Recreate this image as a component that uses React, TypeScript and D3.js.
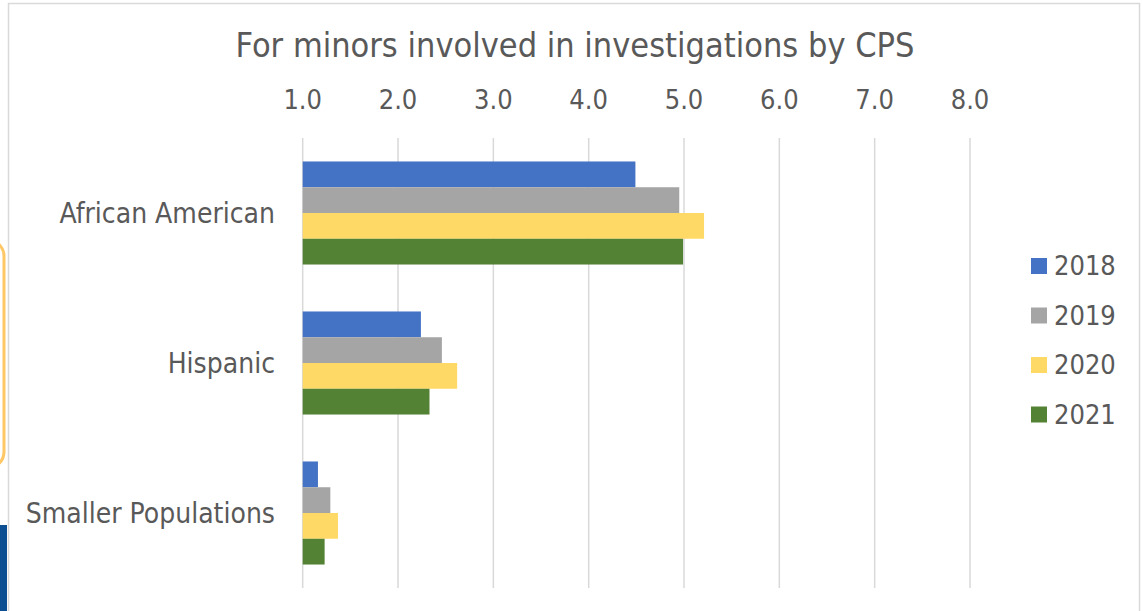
import React, { useRef, useEffect } from 'react';
import * as d3 from 'd3';

const categories = ['African American', 'Hispanic', 'Smaller Populations'];
const years = ['2018', '2019', '2020', '2021'];
const values2018 = [4.49, 2.24, 1.16];
const values2019 = [4.95, 2.46, 1.29];
const values2020 = [5.21, 2.62, 1.37];
const values2021 = [4.99, 2.33, 1.23];
const tickValues = [1, 2, 3, 4, 5, 6, 7, 8];
const colors = ['#4472C4', '#A5A5A5', '#FFD966', '#548235'];

const FONT = "'DejaVu Sans Condensed', 'DejaVu Sans', sans-serif";
const TEXT = '#595959';

const App = () => {
  const Svg = useRef<SVGSVGElement>(null);

  useEffect(() => {
    const width = 1142;
    const height = 611;
    const svg = d3.select(Svg.current).attr('width', width).attr('height', height);
    svg.selectAll('*').remove();

    const series = [values2018, values2019, values2020, values2021];

    // frame + stuff bleeding in from the slide
    svg.append('rect').attr('width', width).attr('height', height).attr('fill', '#fff');
    svg
      .append('rect')
      .attr('x', -60)
      .attr('y', 240)
      .attr('width', 64)
      .attr('height', 228)
      .attr('rx', 16)
      .attr('fill', 'none')
      .attr('stroke', '#FFC766')
      .attr('stroke-width', 3);
    svg.append('rect').attr('x', 0).attr('y', 525).attr('width', 7).attr('height', 86).attr('fill', '#0B4F92');
    svg
      .append('path')
      .attr('d', 'M8.5,611 V3.5 H1139.5 V611')
      .attr('fill', 'none')
      .attr('stroke', '#D9D9D9')
      .attr('stroke-width', 1.5);

    const x = d3.scaleLinear().domain([1, 8]).range([302.7, 970]);
    const y = d3
      .scaleBand()
      .domain(categories)
      .range([138, 588])
      .paddingInner(0.313)
      .paddingOuter(0.1565);
    const ySub = d3.scaleBand().domain(years).range([0, y.bandwidth()]);

    // title
    svg
      .append('text')
      .attr('x', 575)
      .attr('y', 57)
      .attr('text-anchor', 'middle')
      .attr('font-family', FONT)
      .attr('font-size', 34)
      .attr('fill', TEXT)
      .text('For minors involved in investigations by CPS');

    // gridlines
    svg
      .append('g')
      .selectAll('line')
      .data(tickValues)
      .enter()
      .append('line')
      .attr('x1', (d) => x(d))
      .attr('x2', (d) => x(d))
      .attr('y1', 138)
      .attr('y2', 588)
      .attr('stroke', '#D9D9D9')
      .attr('stroke-width', 1.5);

    // top axis labels
    svg
      .append('g')
      .selectAll('text')
      .data(tickValues)
      .enter()
      .append('text')
      .attr('x', (d) => x(d))
      .attr('y', 109)
      .attr('text-anchor', 'middle')
      .attr('font-family', FONT)
      .attr('font-size', 27)
      .attr('fill', TEXT)
      .text((d) => d3.format('.1f')(d));

    // bars
    years.forEach((yr, j) => {
      svg
        .append('g')
        .selectAll('rect')
        .data(series[j])
        .enter()
        .append('rect')
        .attr('x', x(1))
        .attr('y', (d, i) => y(categories[i]) + ySub(yr))
        .attr('width', (d) => x(d) - x(1))
        .attr('height', ySub.bandwidth())
        .attr('fill', colors[j]);
    });

    // category labels
    svg
      .append('g')
      .selectAll('text')
      .data(categories)
      .enter()
      .append('text')
      .attr('x', 275)
      .attr('y', (d) => y(d) + y.bandwidth() / 2)
      .attr('dy', '0.35em')
      .attr('text-anchor', 'end')
      .attr('font-family', FONT)
      .attr('font-size', 28)
      .attr('fill', TEXT)
      .text((d) => d);

    // legend
    const legend = svg
      .append('g')
      .selectAll('g')
      .data(years)
      .enter()
      .append('g')
      .attr('transform', (d, i) => `translate(1031, ${266 + i * 49.5})`);
    legend
      .append('rect')
      .attr('y', -8)
      .attr('width', 16)
      .attr('height', 16)
      .attr('fill', (d, i) => colors[i]);
    legend
      .append('text')
      .attr('x', 23)
      .attr('dy', '0.35em')
      .attr('font-family', FONT)
      .attr('font-size', 27)
      .attr('fill', TEXT)
      .text((d) => d);
  }, []);

  return (
    <div style={{ position: 'absolute', left: 0, top: 0 }}>
      <svg ref={Svg} style={{ display: 'block' }} />
    </div>
  );
};

export default App;
